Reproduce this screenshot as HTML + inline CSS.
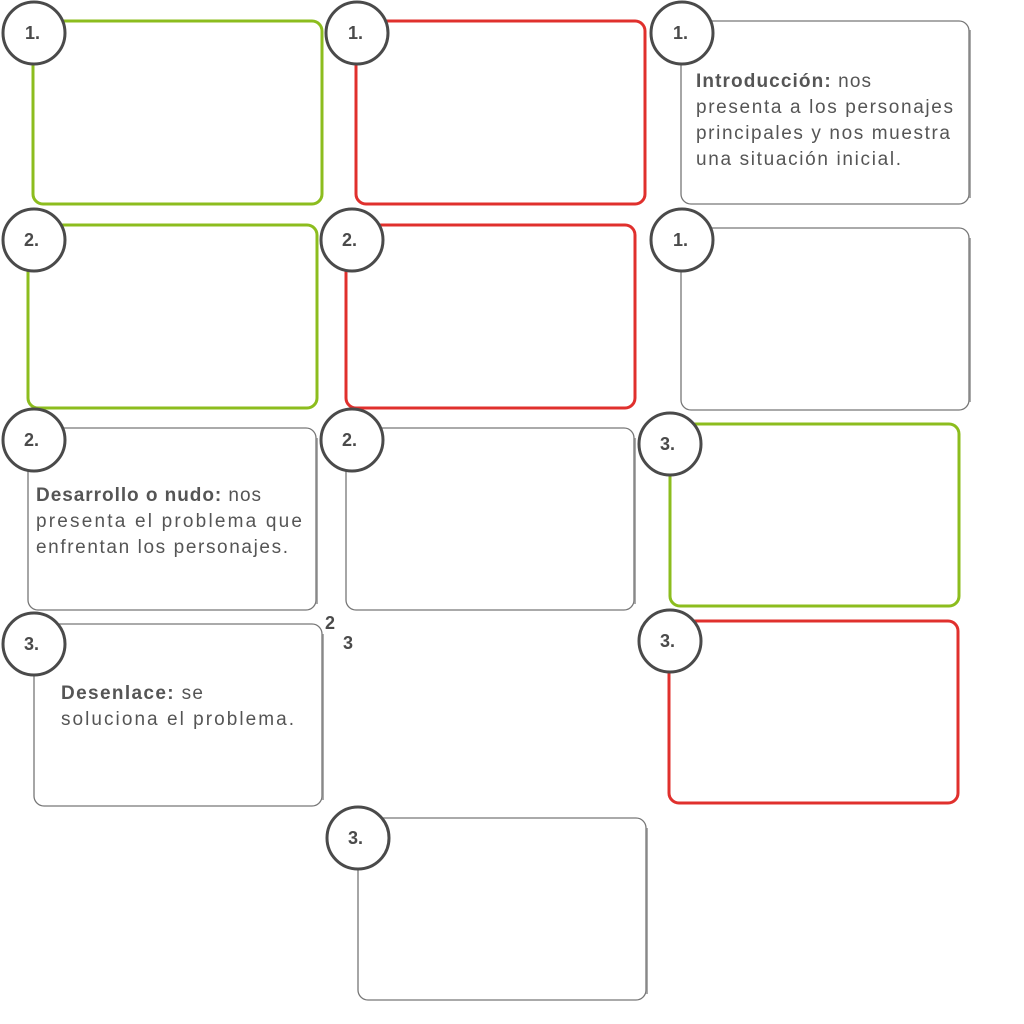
<!DOCTYPE html>
<html><head><meta charset="utf-8"><style>
html,body{margin:0;padding:0;background:#fff;width:1024px;height:1024px;overflow:hidden}
svg{display:block}
text{font-family:"Liberation Sans",sans-serif;fill:#555}
</style></head><body>
<svg width="1024" height="1024" viewBox="0 0 1024 1024">
<defs><style>
.g{fill:#fff;stroke:#8cbd1e;stroke-width:3}
.r{fill:#fff;stroke:#e0302d;stroke-width:3}
.k{fill:#fff;stroke:#777;stroke-width:1.3}
.sh{fill:none;stroke:#aaa;stroke-width:2}
.c{fill:#fff;stroke:#4a4a4a;stroke-width:3}
.n{font-size:18px;font-weight:bold;fill:#4a4a4a}
.t{font-size:19px}
</style></defs>
<rect class="g" x="33" y="21" width="289" height="183" rx="10"/>
<rect class="r" x="356" y="21" width="289" height="183" rx="10"/>
<path class="sh" d="M970 30 V198"/>
<rect class="k" x="681" y="21" width="288" height="183" rx="10"/>
<rect class="g" x="28" y="225" width="289" height="183" rx="10"/>
<rect class="r" x="346" y="225" width="289" height="183" rx="10"/>
<path class="sh" d="M970 238 V402"/>
<rect class="k" x="681" y="228" width="288" height="182" rx="10"/>
<path class="sh" d="M317 438 V604"/>
<rect class="k" x="28" y="428" width="288" height="182" rx="10"/>
<path class="sh" d="M635 438 V604"/>
<rect class="k" x="346" y="428" width="288" height="182" rx="10"/>
<rect class="g" x="670" y="424" width="289" height="182" rx="10"/>
<path class="sh" d="M323 634 V800"/>
<rect class="k" x="34" y="624" width="288" height="182" rx="10"/>
<rect class="r" x="669" y="621" width="289" height="182" rx="10"/>
<path class="sh" d="M647 828 V994"/>
<rect class="k" x="358" y="818" width="288" height="182" rx="10"/>
<circle class="c" cx="34" cy="33" r="31"/><text class="n" x="25" y="39">1.</text>
<circle class="c" cx="357" cy="33" r="31"/><text class="n" x="348" y="39">1.</text>
<circle class="c" cx="682" cy="33" r="31"/><text class="n" x="673" y="39">1.</text>
<circle class="c" cx="34" cy="240" r="31"/><text class="n" x="24" y="246">2.</text>
<circle class="c" cx="352" cy="240" r="31"/><text class="n" x="342" y="246">2.</text>
<circle class="c" cx="682" cy="240" r="31"/><text class="n" x="673" y="246">1.</text>
<circle class="c" cx="34" cy="440" r="31"/><text class="n" x="24" y="446">2.</text>
<circle class="c" cx="352" cy="440" r="31"/><text class="n" x="342" y="446">2.</text>
<circle class="c" cx="670" cy="444" r="31"/><text class="n" x="660" y="450">3.</text>
<circle class="c" cx="34" cy="644" r="31"/><text class="n" x="24" y="650">3.</text>
<circle class="c" cx="670" cy="641" r="31"/><text class="n" x="660" y="647">3.</text>
<circle class="c" cx="358" cy="838" r="31"/><text class="n" x="348" y="844">3.</text>
<text class="n" x="325" y="629">2</text>
<text class="n" x="343" y="649">3</text>
<text class="t" x="696" y="87" textLength="175" lengthAdjust="spacing"><tspan font-weight="bold">Introducción:</tspan> nos</text>
<text class="t" x="696" y="113" textLength="257" lengthAdjust="spacing">presenta a los personajes</text>
<text class="t" x="696" y="139" textLength="254" lengthAdjust="spacing">principales y nos muestra</text>
<text class="t" x="696" y="165" textLength="205" lengthAdjust="spacing">una situación inicial.</text>
<text class="t" x="36" y="501" textLength="225" lengthAdjust="spacing"><tspan font-weight="bold">Desarrollo o nudo:</tspan> nos</text>
<text class="t" x="36" y="527" textLength="266" lengthAdjust="spacing">presenta el problema que</text>
<text class="t" x="36" y="553" textLength="252" lengthAdjust="spacing">enfrentan los personajes.</text>
<text class="t" x="61" y="699" textLength="142" lengthAdjust="spacing"><tspan font-weight="bold">Desenlace:</tspan> se</text>
<text class="t" x="61" y="725" textLength="233" lengthAdjust="spacing">soluciona el problema.</text>
</svg>
</body></html>
